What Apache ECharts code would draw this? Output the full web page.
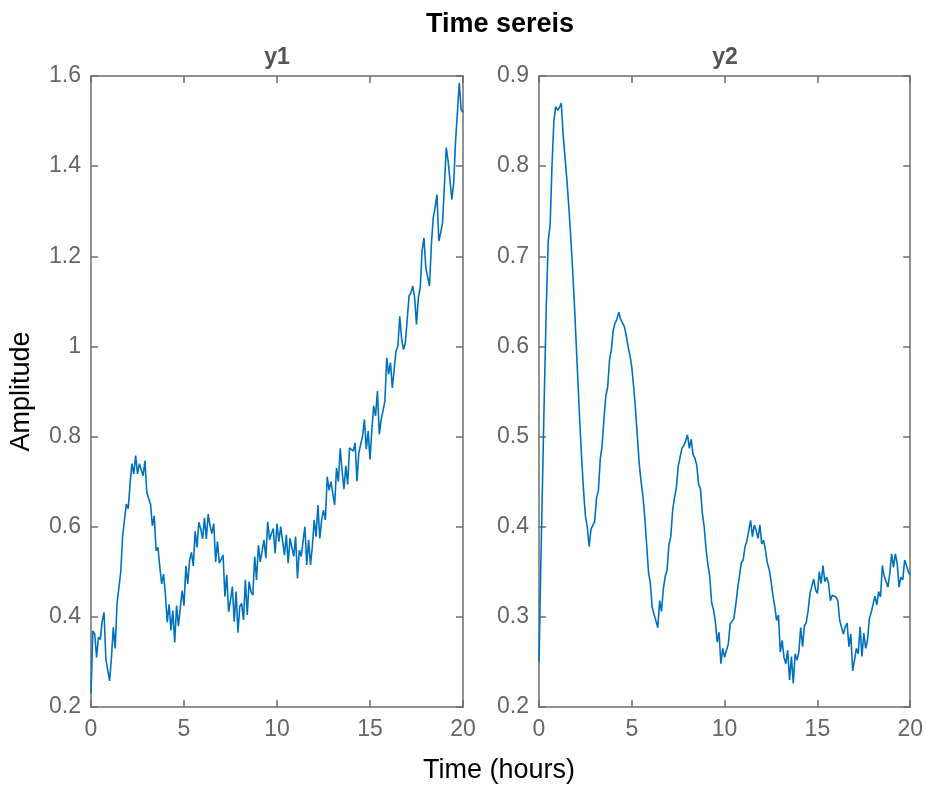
<!DOCTYPE html>
<html>
<head>
<meta charset="utf-8">
<title>Time sereis</title>
<script src="https://cdn.jsdelivr.net/npm/echarts@6/dist/echarts.min.js"></script>
<style>
  html, body { margin: 0; padding: 0; background: #fff; }
  #chart { width: 926px; height: 785px; }
</style>
</head>
<body>
<div id="chart"></div>
<script>
// Sampling: one reading every 0.1 hours, from 0 to 20 hours
const timeStep = 0.1;

// Signal y1, 0..20 h
const y1 = [
  0.23, 0.369, 0.362, 0.31, 0.355, 0.35, 0.39, 0.41, 0.306, 0.31,
  0.258, 0.31, 0.377, 0.33, 0.43, 0.432, 0.50, 0.58, 0.58, 0.65,
  0.64, 0.695, 0.74, 0.717, 0.758, 0.717, 0.74, 0.74, 0.713, 0.746,
  0.676, 0.676, 0.65, 0.602, 0.624, 0.547, 0.554, 0.51, 0.473, 0.495,
  0.45, 0.388, 0.428, 0.37, 0.414, 0.343, 0.425, 0.38, 0.42, 0.458,
  0.425, 0.513, 0.473, 0.525, 0.543, 0.513, 0.59, 0.554, 0.61, 0.595,
  0.573, 0.62, 0.573, 0.628, 0.602, 0.585, 0.607, 0.522, 0.567, 0.519,
  0.517, 0.537, 0.445, 0.493, 0.411, 0.437, 0.467, 0.389, 0.456, 0.365,
  0.423, 0.43, 0.393, 0.482, 0.404, 0.478, 0.456, 0.448, 0.534, 0.482,
  0.559, 0.522, 0.526, 0.571, 0.53, 0.611, 0.571, 0.585, 0.596, 0.541,
  0.607, 0.567, 0.6, 0.596, 0.537, 0.582, 0.519, 0.574, 0.574, 0.534,
  0.578, 0.485, 0.548, 0.534, 0.537, 0.6, 0.515, 0.571, 0.515, 0.556,
  0.615, 0.578, 0.648, 0.574, 0.615, 0.637, 0.615, 0.711, 0.681, 0.7,
  0.674, 0.648, 0.73, 0.70, 0.774, 0.724, 0.683, 0.735, 0.694, 0.775,
  0.775, 0.768, 0.786, 0.701, 0.764, 0.76, 0.801, 0.838, 0.772, 0.812,
  0.749, 0.816, 0.868, 0.846, 0.901, 0.805, 0.838, 0.857, 0.879, 0.975,
  0.938, 0.964, 0.908, 0.908, 0.99, 1.001, 1.067, 1.016, 0.993, 1.008,
  1.005, 1.112, 1.119, 1.134, 1.108, 1.049, 1.108, 1.13, 1.212, 1.241,
  1.175, 1.175, 1.134, 1.226, 1.286, 1.308, 1.337, 1.234, 1.252, 1.275,
  1.356, 1.441, 1.411, 1.408, 1.326, 1.363, 1.456, 1.519, 1.585, 1.526,
  1.519
];

// Signal y2, 0..20 h
const y2 = [
  0.25, 0.36, 0.46, 0.56, 0.65, 0.718, 0.735, 0.80, 0.85, 0.866,
  0.862, 0.865, 0.87, 0.835, 0.81, 0.785, 0.757, 0.725, 0.69, 0.65,
  0.605, 0.56, 0.515, 0.475, 0.44, 0.412, 0.40, 0.378, 0.397, 0.395,
  0.406, 0.432, 0.44, 0.475, 0.49, 0.52, 0.545, 0.555, 0.585, 0.597,
  0.618, 0.626, 0.63, 0.638, 0.63, 0.632, 0.622, 0.612, 0.6, 0.59,
  0.577, 0.555, 0.53, 0.5, 0.47, 0.45, 0.434, 0.41, 0.38, 0.35,
  0.337, 0.31, 0.303, 0.302, 0.288, 0.318, 0.306, 0.331, 0.345, 0.352,
  0.38, 0.389, 0.418, 0.432, 0.443, 0.467, 0.468, 0.487, 0.49, 0.495,
  0.502, 0.487, 0.497, 0.48, 0.476, 0.468, 0.447, 0.442, 0.415, 0.4,
  0.375, 0.358, 0.345, 0.316, 0.308, 0.295, 0.272, 0.283, 0.248, 0.265,
  0.255, 0.263, 0.27, 0.292, 0.29, 0.298, 0.313, 0.331, 0.329, 0.36,
  0.363, 0.378, 0.384, 0.383, 0.407, 0.389, 0.402, 0.396, 0.387, 0.402,
  0.381, 0.385, 0.374, 0.36, 0.353, 0.34, 0.324, 0.312, 0.296, 0.302,
  0.261, 0.274, 0.255, 0.248, 0.263, 0.23, 0.256, 0.226, 0.259, 0.252,
  0.261, 0.288, 0.267, 0.29, 0.294, 0.307, 0.326, 0.324, 0.342, 0.33,
  0.326, 0.35, 0.337, 0.357, 0.339, 0.344, 0.337, 0.318, 0.324, 0.322,
  0.322, 0.318, 0.296, 0.298, 0.281, 0.289, 0.293, 0.267, 0.281, 0.24,
  0.252, 0.265, 0.259, 0.289, 0.256, 0.282, 0.265, 0.274, 0.298, 0.305,
  0.304, 0.323, 0.313, 0.328, 0.322, 0.357, 0.345, 0.345, 0.333, 0.348,
  0.37, 0.355, 0.37, 0.359, 0.333, 0.344, 0.341, 0.363, 0.357, 0.35,
  0.346
];

// Axis ranges and tick spacing
const xTicks = { min: 0, max: 20, interval: 5 };
const y1Ticks = { min: 0.2, max: 1.6, interval: 0.2 };
const y2Ticks = { min: 0.2, max: 0.9, interval: 0.1 };

// Texts
const mainTitle = 'Time sereis';
const panelTitles = ['y1', 'y2'];
const xName = 'Time (hours)';
const yName = 'Amplitude';

const FONT = '"Liberation Sans", Arial, Helvetica, sans-serif';
const AXIS_COLOR = '#6e6e6e';
const LABEL_COLOR = '#666666';
const LINE_COLOR = '#0072BD';
const TICK_FONT = 23;
const NAME_FONT = 27;

const toPairs = arr => arr.map((v, i) => [+(i * timeStep).toFixed(1), v]);
const fmt = v => String(parseFloat(Number(v).toFixed(2)));

const grids = [
  { left: 91, top: 76, width: 372, height: 631 },
  { left: 539, top: 76, width: 372, height: 631 }
];

function xAxisFor(gridIndex, position) {
  const primary = position === 'bottom';
  return {
    type: 'value', gridIndex, position,
    min: xTicks.min, max: xTicks.max, interval: xTicks.interval,
    axisLine: { show: true, onZero: false, lineStyle: { color: AXIS_COLOR, width: 1.5 } },
    axisTick: { show: true, inside: true, length: 7, lineStyle: { color: AXIS_COLOR, width: 1.5 } },
    axisLabel: { show: primary, color: LABEL_COLOR, fontSize: TICK_FONT, fontFamily: FONT, margin: 11, formatter: fmt },
    splitLine: { show: false }
  };
}

function yAxisFor(gridIndex, position, ticks, withName) {
  const primary = position === 'left';
  const ax = {
    type: 'value', gridIndex, position,
    min: ticks.min, max: ticks.max, interval: ticks.interval,
    axisLine: { show: true, onZero: false, lineStyle: { color: AXIS_COLOR, width: 1.5 } },
    axisTick: { show: true, inside: true, length: 7, lineStyle: { color: AXIS_COLOR, width: 1.5 } },
    axisLabel: { show: primary, color: LABEL_COLOR, fontSize: TICK_FONT, fontFamily: FONT, margin: 10, formatter: fmt },
    splitLine: { show: false }
  };
  if (withName) {
    Object.assign(ax, {
      name: yName, nameLocation: 'middle', nameRotate: 90, nameGap: 56,
      nameTextStyle: { color: '#000', fontSize: NAME_FONT, fontFamily: FONT }
    });
  }
  return ax;
}

const chart = echarts.init(document.getElementById('chart'), null, { renderer: 'canvas' });

chart.setOption({
  animation: false,
  backgroundColor: '#ffffff',
  grid: grids,
  xAxis: [
    xAxisFor(0, 'bottom'), xAxisFor(0, 'top'),
    xAxisFor(1, 'bottom'), xAxisFor(1, 'top')
  ],
  yAxis: [
    yAxisFor(0, 'left', y1Ticks, true), yAxisFor(0, 'right', y1Ticks, false),
    yAxisFor(1, 'left', y2Ticks, false), yAxisFor(1, 'right', y2Ticks, false)
  ],
  series: [
    {
      name: panelTitles[0], type: 'line', xAxisIndex: 0, yAxisIndex: 0,
      data: toPairs(y1), showSymbol: false, smooth: false,
      lineStyle: { color: LINE_COLOR, width: 1.6 }
    },
    {
      name: panelTitles[1], type: 'line', xAxisIndex: 2, yAxisIndex: 2,
      data: toPairs(y2), showSymbol: false, smooth: false,
      lineStyle: { color: LINE_COLOR, width: 1.6 }
    }
  ],
  graphic: [
    {
      type: 'text', x: 500, y: 25,
      style: { text: mainTitle, fill: '#000', font: 'bold 27px ' + FONT, align: 'center', verticalAlign: 'middle' }
    },
    {
      type: 'text', x: 277, y: 58,
      style: { text: panelTitles[0], fill: '#555', font: 'bold 23px ' + FONT, align: 'center', verticalAlign: 'middle' }
    },
    {
      type: 'text', x: 725, y: 58,
      style: { text: panelTitles[1], fill: '#555', font: 'bold 23px ' + FONT, align: 'center', verticalAlign: 'middle' }
    },
    {
      type: 'text', x: 499, y: 771,
      style: { text: xName, fill: '#000', font: NAME_FONT + 'px ' + FONT, align: 'center', verticalAlign: 'middle' }
    }
  ]
});
</script>
</body>
</html>
